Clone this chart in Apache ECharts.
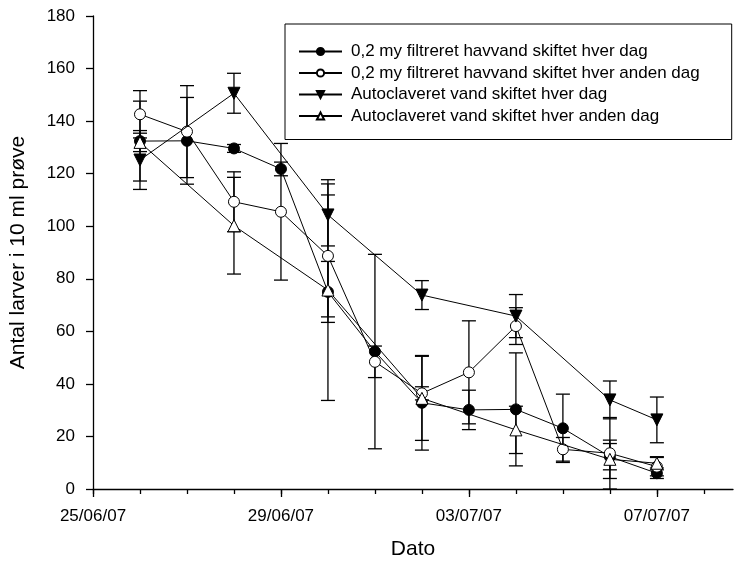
<!DOCTYPE html>
<html>
<head>
<meta charset="utf-8">
<script src="https://cdn.jsdelivr.net/npm/echarts@6/dist/echarts.min.js"></script>
<style>
  html, body { margin: 0; padding: 0; background: #fff; }
  #chart { width: 744px; height: 567px; }
</style>
</head>
<body>
<div id="chart"></div>
<script>
// Larval counts per 10 ml sample, mean and error per sampling day
const startDate = '25/06/07';
const xTickLabels = ['25/06/07', '29/06/07', '03/07/07', '07/07/07'];
const xTickDays = [0, 4, 8, 12];
const xDayTicks = [0, 1, 2, 3, 4, 5, 6, 7, 8, 9, 10, 11, 12, 13];
const xAxisEnd = 13.62;

const seriesNames = [
  '0,2 my filtreret havvand skiftet hver dag',
  '0,2 my filtreret havvand skiftet hver anden dag',
  'Autoclaveret vand skiftet hver dag',
  'Autoclaveret vand skiftet hver anden dag'
];

const dailyDates = ['26/06/07', '27/06/07', '28/06/07', '29/06/07', '30/06/07', '01/07/07',
                    '02/07/07', '03/07/07', '04/07/07', '05/07/07', '06/07/07', '07/07/07'];
const altDates = ['26/06/07', '28/06/07', '30/06/07', '02/07/07', '04/07/07', '06/07/07', '07/07/07'];

const filtDaily    = [132.4, 132.5, 129.6, 121.8, 75.0, 52.3, 32.8, 30.1, 30.3, 23.1, 12.3, 6.0];
const filtDailyErr = [15.2, 16.5, 1.5, 2.6, 11.6, 37.0, 18.0, 7.5, 21.5, 13.0, 5.0, 2.0];

const filtAlt      = [142.6, 136.0, 109.3, 105.5, 88.7, 48.4, 36.4, 44.4, 62.0, 15.1, 13.6, 8.5];
const filtAltErr   = [9.0, 17.5, 11.4, 26.0, 23.2, 6.0, 2.5, 19.6, 7.0, 4.5, 13.6, 3.5];

const autoDaily    = [125.2, 150.6, 104.3, 73.8, 65.8, 33.9, 26.3];
const autoDailyErr = [11.2, 7.6, 11.8, 5.5, 8.2, 7.2, 8.7];

const autoAlt      = [131.9, 100.2, 75.7, 34.5, 22.5, 11.3, 9.8];
const autoAltErr   = [3.5, 18.4, 42.0, 16.0, 9.0, 7.3, 2.5];

const yTickStep = 20;
const yMax = 180;

function dayOffset(s) {
  const [d, m, y] = s.split('/').map(Number);
  const [d0, m0, y0] = startDate.split('/').map(Number);
  return (Date.UTC(2000 + y, m - 1, d) - Date.UTC(2000 + y0, m0 - 1, d0)) / 86400000;
}

function points(dates, vals) {
  return dates.map((d, i) => [dayOffset(d), vals[i]]);
}
function errPoints(dates, vals, errs) {
  return dates.map((d, i) => [dayOffset(d), vals[i], errs[i]]);
}

const FONT = 'Liberation Sans, Arial, sans-serif';
const CAP = 7;

function renderErr(params, api) {
  const x = api.value(0), y = api.value(1), e = api.value(2);
  const top = api.coord([x, y + e]);
  const bot = api.coord([x, y - e]);
  const st = { stroke: '#000', lineWidth: 1.3 };
  return {
    type: 'group',
    children: [
      { type: 'line', shape: { x1: top[0], y1: top[1], x2: bot[0], y2: bot[1] }, style: st },
      { type: 'line', shape: { x1: top[0] - CAP, y1: top[1], x2: top[0] + CAP, y2: top[1] }, style: st },
      { type: 'line', shape: { x1: bot[0] - CAP, y1: bot[1], x2: bot[0] + CAP, y2: bot[1] }, style: st }
    ]
  };
}

const groups = [
  { dates: dailyDates, vals: filtDaily, errs: filtDailyErr, symbol: 'circle', size: 11, fill: '#000', rot: 0 },
  { dates: dailyDates, vals: filtAlt, errs: filtAltErr, symbol: 'circle', size: 11, fill: '#fff', rot: 0 },
  { dates: altDates, vals: autoDaily, errs: autoDailyErr, symbol: 'triangle', size: 12, fill: '#000', rot: 180 },
  { dates: altDates, vals: autoAlt, errs: autoAltErr, symbol: 'triangle', size: 12, fill: '#fff', rot: 0 }
];

const series = [];
groups.forEach((g, i) => {
  series.push({
    name: 'err' + i,
    type: 'custom',
    xAxisIndex: 0,
    yAxisIndex: 0,
    z: 1,
    silent: true,
    renderItem: renderErr,
    encode: { x: 0, y: 1 },
    data: errPoints(g.dates, g.vals, g.errs)
  });
});
groups.forEach((g, i) => {
  series.push({
    name: seriesNames[i],
    type: 'line',
    xAxisIndex: 0,
    yAxisIndex: 0,
    z: 3 + i,
    symbol: g.symbol,
    symbolSize: g.size,
    symbolRotate: g.rot,
    showAllSymbol: true,
    lineStyle: { color: '#000', width: 1 },
    itemStyle: { color: g.fill, borderColor: '#000', borderWidth: 1 },
    emphasis: { disabled: true },
    data: points(g.dates, g.vals)
  });
});

const chart = echarts.init(document.getElementById('chart'), null, { renderer: 'canvas' });
chart.setOption({
  animation: false,
  backgroundColor: '#fff',
  grid: { left: 93, right: 11, top: 16, bottom: 78, containLabel: false },
  legend: {
    data: seriesNames,
    orient: 'vertical',
    left: 285,
    top: 24,
    itemWidth: 43,
    itemHeight: 9,
    itemGap: 4.5,
    padding: [19, 32, 15, 13],
    borderColor: '#000',
    borderWidth: 1,
    selectedMode: false,
    textStyle: { fontFamily: FONT, fontSize: 17, color: '#000', padding: [0, 0, 0, 4] }
  },
  xAxis: [
    {
      type: 'value',
      position: 'bottom',
      min: 0,
      max: xAxisEnd,
      name: 'Dato',
      nameLocation: 'middle',
      nameGap: 50,
      nameTextStyle: { fontFamily: FONT, fontSize: 21, color: '#000' },
      axisLine: { show: true, onZero: false, lineStyle: { color: '#000', width: 1.3 } },
      axisTick: { show: true, inside: false, length: 5, customValues: xDayTicks, lineStyle: { color: '#000', width: 1.3 } },
      axisLabel: { show: false },
      splitLine: { show: false }
    },
    {
      type: 'value',
      position: 'bottom',
      min: 0,
      max: xAxisEnd,
      axisLine: { show: false, onZero: false },
      axisTick: { show: true, inside: false, length: 8, customValues: xTickDays, lineStyle: { color: '#000', width: 1.3 } },
      axisLabel: {
        show: true,
        margin: 19,
        customValues: xTickDays,
        fontFamily: FONT,
        fontSize: 17,
        color: '#000',
        formatter: v => xTickLabels[xTickDays.indexOf(Math.round(v))] || ''
      },
      splitLine: { show: false }
    }
  ],
  yAxis: {
    type: 'value',
    min: 0,
    max: yMax,
    interval: yTickStep,
    name: 'Antal larver i 10 ml prøve',
    nameLocation: 'middle',
    nameGap: 64,
    nameTextStyle: { fontFamily: FONT, fontSize: 21, color: '#000' },
    axisLine: { show: true, onZero: false, lineStyle: { color: '#000', width: 1.3 } },
    axisTick: { show: true, inside: false, length: 7, lineStyle: { color: '#000', width: 1.3 } },
    axisLabel: { margin: 18, fontFamily: FONT, fontSize: 17, color: '#000' },
    splitLine: { show: false }
  },
  series: series
});
</script>
</body>
</html>
